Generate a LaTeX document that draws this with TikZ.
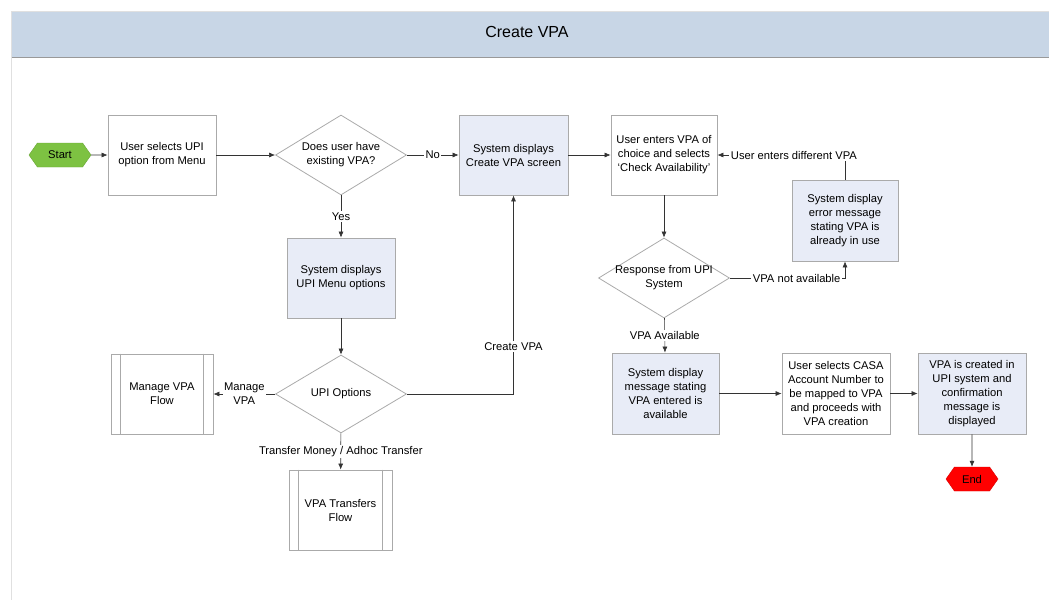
\documentclass[tikz,border=0pt]{standalone}
\usepackage{fontspec}
\setmainfont{Liberation Sans}
\usetikzlibrary{shapes.geometric,shapes.symbols,arrows.meta}
\definecolor{hdrblue}{RGB}{200,214,230}
\definecolor{sysblue}{RGB}{232,236,247}
\definecolor{boxgray}{RGB}{170,170,170}
\definecolor{startgreen}{RGB}{125,194,66}
\definecolor{endred}{RGB}{255,0,0}
\tikzset{
  every node/.style={font=\fontsize{11.2}{14}\selectfont},
  userbox/.style={draw=boxgray, line width=0.8pt, fill=white, minimum width=108, minimum height=80, align=center, inner sep=2pt},
  sysbox/.style={userbox, fill=sysblue},
  decision/.style={diamond, draw=boxgray, line width=0.8pt, aspect=1.64, inner sep=0pt, minimum width=131, minimum height=80, align=center},
  subflow/.style={userbox, minimum width=102},
  term/.style={signal, signal to=west and east, signal pointer angle=110, minimum width=62, minimum height=24, inner sep=0pt, draw=#1!85!black, fill=#1},
  flow/.style={-{Latex[length=6pt,width=5pt]}, line width=0.6pt, draw=black!80},
  lbl/.style={fill=white, inner sep=1.5pt, align=center}
}

\begin{document}
\begin{tikzpicture}[x=1pt, y=-1pt]
    \useasboundingbox (0,0) rectangle (1049,600);
    % header and frame
    \fill[hdrblue] (11,11) rectangle (1049,57);
    \draw[black!12] (11,11) -- (1049,11);
    \draw[black!40, line width=0.8pt] (11,57) -- (1049,57);
    \draw[black!12] (11,11) -- (11,600);
    \node[font=\fontsize{16}{19}\selectfont] (title) at (527,32) {Create VPA};

    % nodes
    \node[term=startgreen] (start) at (60,155) {Start};
    \node[userbox] (usel) at (162,155) {User selects UPI\\option from Menu};
    \node[decision] (hasvpa) at (341,155) {Does user have\\existing VPA?};
    \node[sysbox, minimum width=109] (create) at (513.5,155) {System displays\\Create VPA screen};
    \node[userbox, minimum width=106] (choose) at (664,155) {User enters VPA of\\choice and selects\\`Check Availability'};
    \node[sysbox, minimum width=106, minimum height=81] (err) at (845,220.5) {System display\\error message\\stating VPA is\\already in use};
    \node[sysbox] (upimenu) at (341,278) {System displays\\UPI Menu options};
    \node[decision, inner xsep=-4pt] (resp) at (664,278) {Response from UPI\\System};
    \node[decision, minimum height=78] (upiopt) at (341,394) {UPI Options};
    \node[subflow] (manage) at (162,394) {Manage VPA\\Flow};
    \node[subflow, minimum width=103] (transfers) at (340.5,510) {VPA Transfers\\Flow};
    \node[sysbox, minimum width=107, minimum height=81] (avail) at (665.5,393.5) {System display\\message stating\\VPA entered is\\available};
    \node[userbox, minimum height=81] (casa) at (836,393.5) {User selects CASA\\Account Number to\\be mapped to VPA\\and proceeds with\\VPA creation};
    \node[sysbox, minimum height=81] (done) at (972,393.5) {VPA is created in\\UPI system and\\confirmation\\message is\\displayed};
    \node[term=endred, minimum width=52, minimum height=24] (finish) at (972,479) {End};

    % side bars of the sub flows
    \draw[boxgray, line width=0.8pt] ([xshift=10]manage.north west) -- ([xshift=10]manage.south west);
    \draw[boxgray, line width=0.8pt] ([xshift=-10]manage.north east) -- ([xshift=-10]manage.south east);
    \draw[boxgray, line width=0.8pt] ([xshift=10]transfers.north west) -- ([xshift=10]transfers.south west);
    \draw[boxgray, line width=0.8pt] ([xshift=-10]transfers.north east) -- ([xshift=-10]transfers.south east);

    % connectors
    \draw[flow] (start) -- (usel);
    \draw[flow] (usel) -- (hasvpa);
    \draw[flow] (hasvpa) -- node[lbl]{No} (create);
    \draw[flow] (hasvpa) -- node[lbl]{Yes} (upimenu);
    \draw[flow] (upimenu) -- (upiopt);
    \draw[flow] (upiopt) -- node[lbl]{Manage\\VPA} (manage);
    \draw[flow] (upiopt) -- node[lbl]{Transfer Money / Adhoc Transfer} (transfers);
    \draw[flow] (upiopt.east) -| node[lbl, pos=0.62]{Create VPA} (create.south);
    \draw[flow] (create) -- (choose);
    \draw[flow] (choose) -- (resp);
    \draw[flow] (resp.east) -| node[lbl, pos=0.29]{VPA not available} (err.south);
    \draw[flow] (err.north) |- node[lbl, pos=0.7]{User enters different VPA} (choose.east);
    \draw[flow] (resp) -- node[lbl]{VPA Available} (avail);
    \draw[flow] (avail) -- (casa);
    \draw[flow] (casa) -- (done);
    \draw[flow] (done) -- (finish);
\end{tikzpicture}
\end{document}
